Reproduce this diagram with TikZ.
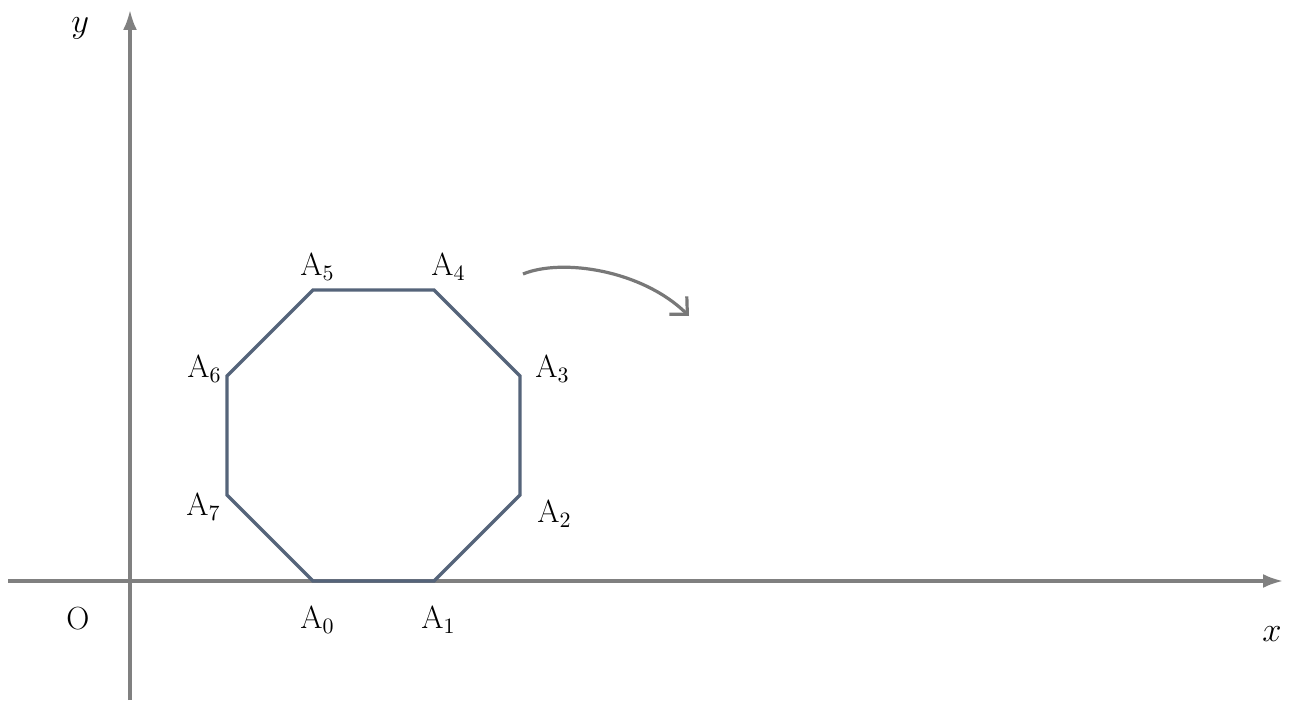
\documentclass[tikz,border=0pt]{standalone}
\usetikzlibrary{arrows.meta}
\definecolor{axisgray}{RGB}{128,128,128}
\definecolor{octcol}{RGB}{85,100,122}
\definecolor{arrgray}{RGB}{120,120,120}
\begin{document}
\begin{tikzpicture}[x=0.5pt,y=-0.5pt,
  axis/.style={draw=axisgray,line width=1.6pt,-{Latex[length=10pt,width=7pt]}},
  octline/.style={draw=octcol,line width=1.6pt,line join=miter},
  vlabel/.style={anchor=base west,inner sep=0pt,font=\fontsize{16}{19}\selectfont},
  axlabel/.style={anchor=base west,inner sep=0pt,font=\fontsize{18}{21}\selectfont},
  rotarrow/.style={draw=arrgray,line width=1.6pt,-{Straight Barb[length=6.5pt,width=12.5pt,line width=1.6pt]}}]
\useasboundingbox (0,0) rectangle (1291,701);
% axes
\coordinate (xs) at (8,581);
\coordinate (xe) at (1283,581);
\coordinate (ys) at (130,700);
\coordinate (ye) at (130,10);
\draw[axis] (xs) -- (xe);
\draw[axis] (ys) -- (ye);
% octagon vertices
\coordinate (A0) at (313,581);
\coordinate (A1) at (434,581);
\coordinate (A2) at (520,495);
\coordinate (A3) at (520,376);
\coordinate (A4) at (434,290);
\coordinate (A5) at (313,290);
\coordinate (A6) at (227,376);
\coordinate (A7) at (227,495);
\draw[octline] (A0) -- (A1) -- (A2) -- (A3) -- (A4) -- (A5) -- (A6) -- (A7) -- cycle;
% labels
\node[vlabel] (L5) at (300,275) {A$_5$};
\node[vlabel] (L4) at (431,275) {A$_4$};
\node[vlabel] (L6) at (187,377) {A$_6$};
\node[vlabel] (L3) at (535,377) {A$_3$};
\node[vlabel] (L7) at (186,515) {A$_7$};
\node[vlabel] (L2) at (537,522) {A$_2$};
\node[vlabel] (L0) at (300,628) {A$_0$};
\node[vlabel] (L1) at (421,628) {A$_1$};
\node[vlabel] (O) at (66,629) {O};
\node[axlabel] (xl) at (1262,641) {$x$};
\node[axlabel] (yl) at (71,33) {$y$};
% rotation arrow
\coordinate (rs) at (523,274);
\coordinate (re) at (689,316);
\draw[rotarrow] (rs) .. controls (562,258) and (642,270) .. (re);
\end{tikzpicture}
\end{document}
